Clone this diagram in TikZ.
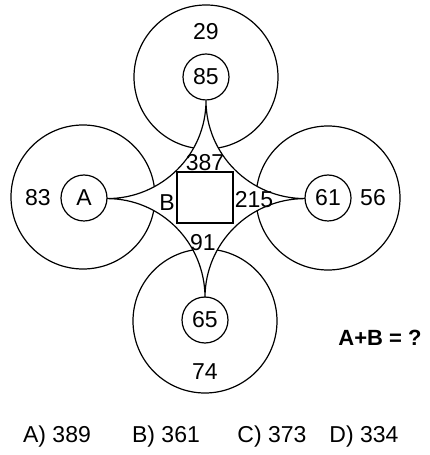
\documentclass[tikz,border=0pt]{standalone}
\usepackage{fontspec}
\setmainfont{Liberation Sans}
\begin{document}
\begin{tikzpicture}[x=1pt,y=1pt,
  big/.style={draw=black,line width=1.2pt},
  small/.style={draw=black,line width=1.2pt,fill=white,circle,minimum size=46pt,inner sep=0pt,font=\fontsize{23}{23}\selectfont},
  lbl/.style={font=\fontsize{23}{23}\selectfont,inner sep=0pt},
  sq/.style={draw=black,line width=2pt,fill=white}]
\useasboundingbox (0,0) rectangle (429,455);
% big circles
\draw[big] (206,378) circle (72);
\draw[big] (83,258) circle (72);
\draw[big] (328,257) circle (72);
\draw[big] (205,134) circle (72);
% inner circles
\node[small] (c85) at (206,378) {85};
\node[small] (cA) at (84,257) {A};
\node[small] (c61) at (328,257) {61};
\node[small] (c65) at (205,135) {65};
% star region
\coordinate (T) at (c85.south);
\coordinate (L) at (cA.east);
\coordinate (R) at (c61.west);
\coordinate (Bt) at (c65.north);
\filldraw[fill=white,draw=black,line width=1.2pt]
  (T) arc[start angle=0,end angle=-90,x radius=99,y radius=98]
  arc[start angle=90,end angle=0,x radius=98,y radius=99]
  arc[start angle=180,end angle=90,x radius=100,y radius=99]
  arc[start angle=270,end angle=180,x radius=99,y radius=98] -- cycle;
% square
\node[sq,minimum width=56pt,minimum height=51pt,inner sep=0pt] (sq) at (205,257.5) {};
% labels
\node[lbl] (t29) at (206,423) {29};
\node[lbl] (t83) at (38,257) {83};
\node[lbl] (t56) at (373,257) {56};
\node[lbl] (t74) at (205,83) {74};
\node[lbl] (t387) at (205,292) {387};
\node[lbl] (tB) at (167,252) {B};
\node[lbl] (t215) at (254,255) {215};
\node[lbl] (t91) at (203,212) {91};
\node[lbl,font=\fontsize{22}{22}\selectfont\bfseries] (q) at (380,117) {A+B = ?};
\node[lbl] (oa) at (57,18) {A) 389};
\node[lbl] (ob) at (166,18) {B) 361};
\node[lbl] (oc) at (272,18) {C) 373};
\node[lbl] (od) at (364,18) {D) 334};
\end{tikzpicture}
\end{document}
